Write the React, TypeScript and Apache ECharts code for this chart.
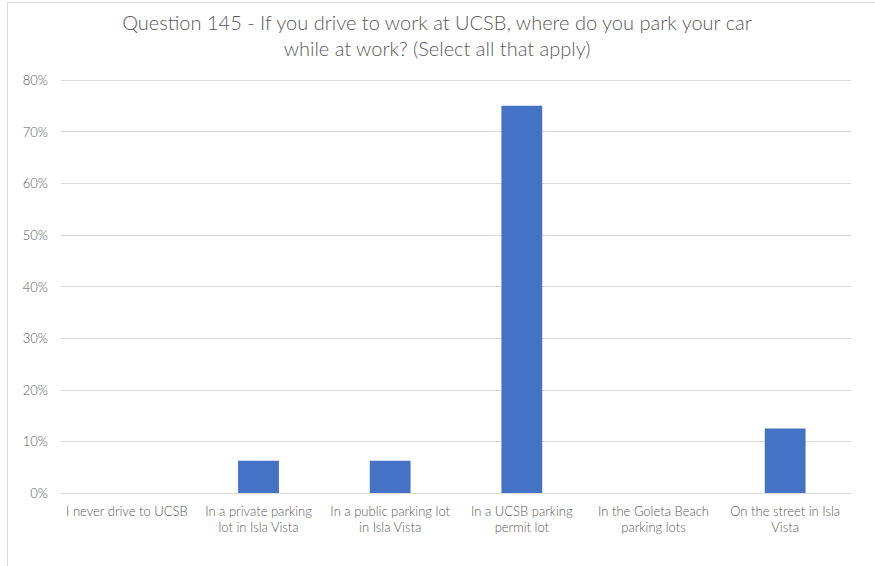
import React, { useEffect, useRef } from "react";
import * as echarts from "echarts";

const categories = [
  "I never drive to UCSB",
  "In a private parking\nlot in Isla Vista",
  "In a public parking lot\nin Isla Vista",
  "In a UCSB parking\npermit lot",
  "In the Goleta Beach\nparking lots",
  "On the street in Isla\nVista",
];
const values = [0, 6.25, 6.25, 75, 0, 12.5];
const titleText =
  "Question 145 - If you drive to work at UCSB, where do you park your car\nwhile at work? (Select all that apply)";

export default function App() {
  const ref = useRef<HTMLDivElement>(null);
  useEffect(() => {
    const chart = echarts.init(ref.current!, null, { renderer: "svg" });
    chart.setOption({
      animation: false,
      backgroundColor: "#ffffff",
      textStyle: { fontFamily: "Lato" },
      title: {
        text: titleText,
        left: "center",
        top: 1,
        textStyle: {
          fontFamily: "Lato",
          fontWeight: 300,
          fontSize: 20,
          color: "#595959",
          lineHeight: 26,
        },
      },
      grid: { left: 53, right: 15, top: 77, bottom: 70 },
      xAxis: {
        type: "category",
        data: categories,
        axisLine: { lineStyle: { color: "#d9d9d9" } },
        axisTick: { show: false },
        axisLabel: {
          color: "#595959",
          fontSize: 13,
          fontWeight: 300,
          lineHeight: 16,
          interval: 0,
          margin: 10,
        },
      },
      yAxis: {
        type: "value",
        min: 0,
        max: 80,
        interval: 10,
        axisLine: { show: false },
        axisTick: { show: false },
        splitLine: { lineStyle: { color: "#d9d9d9" } },
        axisLabel: {
          color: "#595959",
          fontSize: 13,
          fontWeight: 300,
          margin: 13,
          formatter: (v: number) => v + "%",
        },
      },
      series: [
        {
          type: "bar",
          data: values,
          barWidth: "31%",
          itemStyle: { color: "#4472c4" },
        },
      ],
    });
    return () => chart.dispose();
  }, []);
  return (
    <div
      style={{
        position: "fixed",
        left: 7,
        top: 2,
        width: 868,
        height: 564,
        borderTop: "1px solid #d9d9d9",
        borderLeft: "1px solid #d9d9d9",
        boxSizing: "border-box",
        background: "#fff",
      }}
    >
      <div ref={ref} style={{ width: 858, height: 560 }} />
    </div>
  );
}
